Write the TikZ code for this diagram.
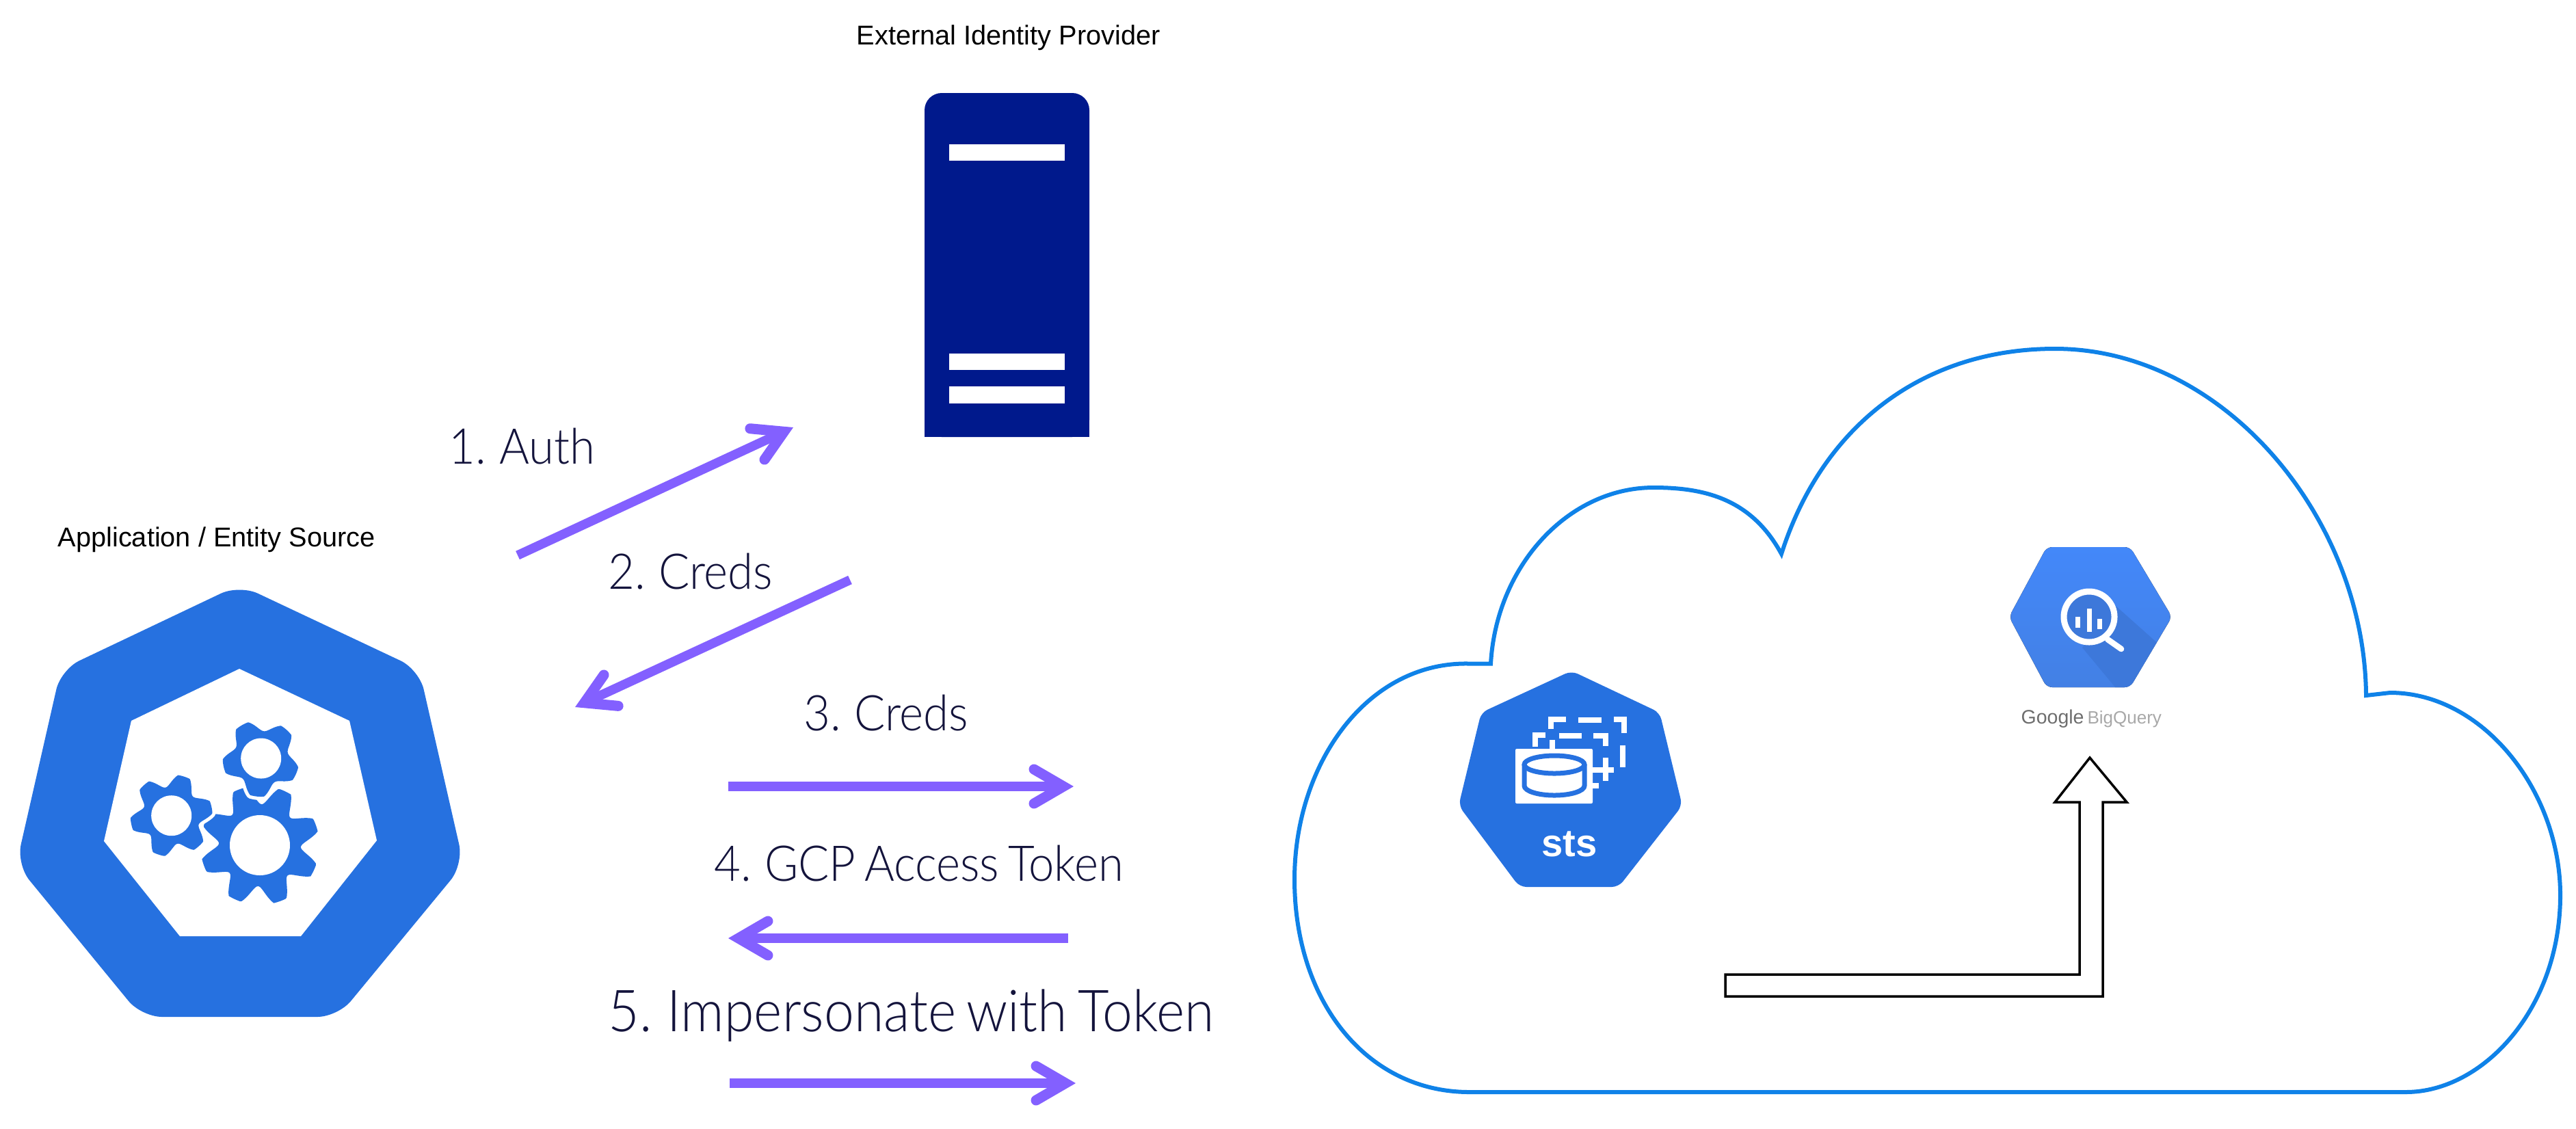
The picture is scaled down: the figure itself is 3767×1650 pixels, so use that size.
\documentclass[tikz,border=0pt]{standalone}
\usepackage{fontspec}
\setmainfont{Liberation Sans}
\newfontfamily\lab[UprightFont=* Light,FakeStretch=0.93,WordSpace=0.7]{Lato}
\usetikzlibrary{arrows.meta}
\definecolor{kblue}{HTML}{2671E0}
\definecolor{srv}{HTML}{00198C}
\definecolor{arr}{HTML}{8360FF}
\definecolor{ink}{HTML}{14143C}
\definecolor{cloudc}{HTML}{0F82E8}
\definecolor{bqt}{HTML}{4388FA}
\definecolor{bqb}{HTML}{4380E4}
\definecolor{bqd}{HTML}{3D78DA}
\tikzset{
 flow/.style={draw=arr,line width=0.135cm,-{Straight Barb[length=0.43cm,width=0.5cm,line width=0.15cm,line cap=round,line join=miter]}},
 steplab/.style={anchor=base west,inner sep=0pt,text=ink,font=\lab\fontsize{20.5}{24}\selectfont},
 caplab/.style={anchor=base west,inner sep=0pt,text=black,font=\fontsize{11.3}{13}\selectfont},
 dashw/.style={draw=white,line width=0.075cm},
 declare function={gr(\t,\n,\o,\a,\b)=\b+(\a-\b)*min(1,max(0,0.62+0.62*cos(\n*(\t-\o))));}
}
\newcommand{\mygear}[7]{%
 \path[draw=white,line width=0.1cm,line join=round] plot[domain=0:360,samples=241,variable=\t]
  ({#1+gr(\t,#3,#4,#5,#6)*cos(\t)},{#2-gr(\t,#3,#4,#5,#6)*sin(\t)}) -- cycle;
 \fill[kblue] plot[domain=0:360,samples=241,variable=\t]
  ({#1+gr(\t,#3,#4,#5,#6)*cos(\t)},{#2-gr(\t,#3,#4,#5,#6)*sin(\t)}) -- cycle;
 \fill[white] (#1,#2) circle (#7);
}
\begin{document}
\begin{tikzpicture}[x=0.01cm,y=-0.01cm]
\useasboundingbox (0,0) rectangle (3767,1650);
% Source heptagon
\fill[kblue,rounded corners=0.3cm] (350,855) -- (613,979) -- (678,1264) -- (494,1487) -- (207,1487) -- (24,1264) -- (89,979) -- cycle;
\fill[white] (350,978) -- (511,1054) -- (551,1229) -- (440,1369) -- (263,1369) -- (152,1230) -- (192,1054) -- cycle;
\mygear{380}{1236}{8}{20}{87}{60}{44}
\mygear{381.7}{1109}{5}{48}{56}{40}{29.5}
\mygear{250.7}{1192.7}{6}{12}{60}{42}{29.5}
\node[caplab] (appl) at (84,799) {Application / Entity Source};
% Server
\fill[srv,rounded corners=0.25cm] (1352,639) -- (1352,136) -- (1593,136) -- (1593,639) -- cycle;
\fill[srv] (1352,600) rectangle (1593,639);
\fill[white] (1388,211) rectangle (1557,235);
\fill[white] (1388,517) rectangle (1557,541);
\fill[white] (1388,565) rectangle (1557,590);
\node[caplab] (idp) at (1252,65) {External Identity Provider};
% Flows
\coordinate (a1s) at (757,812); \coordinate (a1e) at (1160,625);
\coordinate (a2s) at (1243,848); \coordinate (a2e) at (841,1034);
\coordinate (a3s) at (1065,1150); \coordinate (a3e) at (1570,1150);
\coordinate (a4s) at (1562,1372); \coordinate (a4e) at (1065,1372);
\coordinate (a5s) at (1067,1584); \coordinate (a5e) at (1573,1584);
\draw[flow] (a1s) -- (a1e);
\draw[flow] (a2s) -- (a2e);
\draw[flow] (a3s) -- (a3e);
\draw[flow] (a4s) -- (a4e);
\draw[flow] (a5s) -- (a5e);
\node[steplab] (l1) at (656,678) {1. Auth};
\node[steplab] (l2) at (889,861) {2. Creds};
\node[steplab] (l3) at (1175,1068) {3. Creds};
\node[steplab] (l4) at (1044,1288) {4. GCP Access Token};
\node[steplab,font=\lab\fontsize{24.1}{28}\selectfont] (l5) at (889,1508) {5. Impersonate with Token};
% Cloud
\draw[cloudc,line width=0.06cm,line join=miter] (2149,1597)
 .. controls (1999,1597) and (1893,1465) .. (1893,1286)
 .. controls (1893,1117) and (1999,967.5) .. (2148,970.5) -- (2180,970.5)
 .. controls (2188,828) and (2293,713) .. (2418,713)
 .. controls (2492,713) and (2561,729) .. (2605,810)
 .. controls (2666,619) and (2815,510) .. (3005,510)
 .. controls (3253,510) and (3458,759) .. (3460,1017)
 -- (3495,1013)
 .. controls (3631,1013) and (3744,1157) .. (3744,1309)
 .. controls (3744,1475) and (3631,1597) .. (3518,1597) -- cycle;
% STS
\fill[kblue,rounded corners=0.1cm] (2298,981) -- (2427,1042) -- (2460,1178) -- (2367,1297) -- (2222,1297) -- (2133,1178) -- (2166,1042) -- cycle;
\draw[dashw] (2268,1066) -- (2268,1052) -- (2290,1052);
\draw[dashw] (2308,1053) -- (2342,1053);
\draw[dashw] (2360,1052) -- (2375,1052) -- (2375,1072);
\draw[dashw] (2373,1090) -- (2373,1122);
\draw[dashw] (2245,1092) -- (2245,1075) -- (2260,1075);
\draw[dashw] (2280,1076) -- (2313,1076);
\draw[dashw] (2330,1076) -- (2348,1076) -- (2348,1091);
\draw[dashw] (2348,1108) -- (2348,1142);
\draw[dashw] (2325,1126) -- (2360,1126);
\draw[dashw] (2325,1149) -- (2338,1149);
\draw[dashw] (2270,1082) -- (2270,1098);
\fill[white,rounded corners=0.02cm] (2216,1095) rectangle (2329,1175);
\draw[kblue,line width=0.07cm] (2229,1118) -- (2229,1149) arc[start angle=180,end angle=360,x radius=44,y radius=-14] -- (2317,1118);
\draw[kblue,line width=0.07cm] (2273,1118) ellipse[x radius=44,y radius=13];
\node[anchor=base,inner sep=0pt,text=white,font=\bfseries\fontsize{16}{18}\selectfont] (sts) at (2295,1252) {sts};
% BigQuery
\begin{scope}
\clip[rounded corners=0.08cm] (2993,800) -- (3115,800) -- (3176,902) -- (3115,1005) -- (2993,1005) -- (2938,902) -- cycle;
\fill[top color=bqt,bottom color=bqb] (2930,795) rectangle (3185,1010);
\fill[bqd] (3095,887) -- (3160,945) -- (3125,1012) -- (3099,1012) -- (3045,947) -- cycle;
\end{scope}
\draw[white,line width=0.085cm,line cap=round] (3082,935) -- (3102,949);
\fill[bqd] (3055,902) circle (37);
\draw[white,line width=0.09cm] (3055,902) circle (37);
\draw[white,line width=0.07cm] (3038,902) -- (3038,918);
\draw[white,line width=0.07cm] (3055,890) -- (3055,924);
\draw[white,line width=0.07cm] (3070,905) -- (3070,920);
\node[anchor=base west,inner sep=0pt] (bqtext) at (2955,1058) {\fontsize{8.1}{10}\selectfont\textcolor[HTML]{6E6E6E}{Google}\hspace{1.4pt}\fontsize{7.4}{10}\selectfont\textcolor[HTML]{A8A8A8}{BigQuery}};
% Hollow arrow
\draw[black,line width=0.035cm,line join=miter] (2523,1425) -- (3041,1425) -- (3041,1173) -- (3005,1173) -- (3056,1108) -- (3110,1173) -- (3075,1173) -- (3075,1457) -- (2523,1457) -- cycle;
\end{tikzpicture}
\end{document}
